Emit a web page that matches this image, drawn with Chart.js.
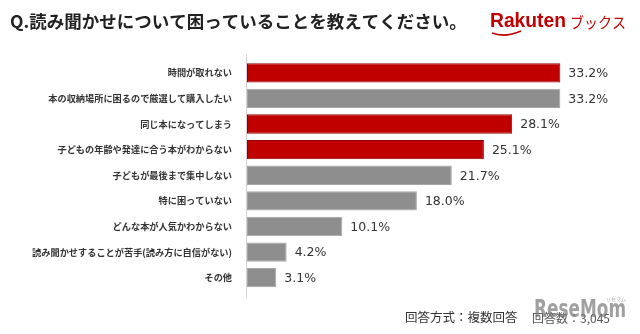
<!DOCTYPE html>
<html>
<head>
<meta charset="utf-8">
<script src="https://cdn.jsdelivr.net/npm/chart.js@4.4.1/dist/chart.umd.min.js"></script>
<style>
  html, body { margin: 0; padding: 0; background: #fff; }
  #wrap { width: 640px; height: 334px; }
</style>
</head>
<body>
<div id="wrap"><canvas id="chart" width="640" height="334"></canvas></div>
<script>
// survey answers, top to bottom
const categories = [
  '時間が取れない',
  '本の収納場所に困るので厳選して購入したい',
  '同じ本になってしまう',
  '子どもの年齢や発達に合う本がわからない',
  '子どもが最後まで集中しない',
  '特に困っていない',
  'どんな本が人気かわからない',
  '読み聞かせすることが苦手(読み方に自信がない)',
  'その他'
];
const percentages = [33.2, 33.2, 28.1, 25.1, 21.7, 18.0, 10.1, 4.2, 3.1];
const highlighted = [true, false, true, true, false, false, false, false, false];

const titleText = 'Q.読み聞かせについて困っていることを教えてください。';
const answerTypeText = '回答方式：複数回答';
const sampleText = '回答数：3,045';

const RED = '#c00000';
const GRAY = '#8e8e8e';
const JP = '"Noto Sans CJK JP", "Noto Sans", sans-serif';

// thin vertical baseline left of the bars, a bit taller than the plot
const axisLine = {
  id: 'axisLine',
  beforeDatasetsDraw(chart) {
    const { ctx, chartArea } = chart;
    ctx.save();
    ctx.strokeStyle = '#d4d4d4';
    ctx.lineWidth = 1;
    ctx.beginPath();
    ctx.moveTo(chartArea.left - 0.5, chartArea.top - 6);
    ctx.lineTo(chartArea.left - 0.5, chartArea.bottom + 7);
    ctx.stroke();
    ctx.restore();
  }
};

// percentage next to each bar
const valueLabels = {
  id: 'valueLabels',
  afterDatasetsDraw(chart) {
    const { ctx } = chart;
    const meta = chart.getDatasetMeta(0);
    ctx.save();
    ctx.font = '12.5px "DejaVu Sans", sans-serif';
    ctx.fillStyle = '#333';
    ctx.textBaseline = 'middle';
    ctx.textAlign = 'left';
    meta.data.forEach((bar, i) => {
      ctx.fillText(percentages[i].toFixed(1) + '%', bar.x + 8, bar.y + 1);
    });
    ctx.restore();
  }
};

// draw text squeezed horizontally to a given width
function fitText(ctx, text, x, y, width) {
  const w = ctx.measureText(text).width;
  ctx.save();
  ctx.translate(x, y);
  ctx.scale(Math.min(1, width / w), 1);
  ctx.fillText(text, 0, 0);
  ctx.restore();
}

// question title, store logo and footnote
const decorations = {
  id: 'decorations',
  afterDraw(chart) {
    const { ctx } = chart;
    ctx.save();
    ctx.textBaseline = 'middle';

    ctx.fillStyle = '#222';
    ctx.font = 'bold 17.5px ' + JP;
    ctx.fillText(titleText, 10, 21);

    // logo
    ctx.fillStyle = '#bf0000';
    ctx.font = 'bold 20px "Liberation Sans", Arial, sans-serif';
    fitText(ctx, 'Rakuten', 490, 21, 76);
    ctx.font = '15px ' + JP;
    fitText(ctx, 'ブックス', 570, 22, 56);
    ctx.strokeStyle = '#bf0000';
    ctx.lineWidth = 1.6;
    ctx.beginPath();
    ctx.moveTo(492, 33);
    ctx.quadraticCurveTo(505, 38, 521, 31);
    ctx.stroke();

    // footnote
    ctx.fillStyle = '#333';
    ctx.font = '12.5px ' + JP;
    ctx.fillText(answerTypeText, 405, 317);
    ctx.fillStyle = '#555';
    ctx.font = '12px ' + JP;
    fitText(ctx, sampleText, 532, 318, 92);

    // watermark
    ctx.fillStyle = 'rgba(120,120,120,0.7)';
    ctx.font = 'bold 24px "DejaVu Sans", sans-serif';
    fitText(ctx, 'ReseMom', 534, 311, 92);
    ctx.font = '5px ' + JP;
    ctx.fillText('リセマム', 606, 299);
    ctx.restore();
  }
};

new Chart(document.getElementById('chart'), {
  type: 'bar',
  data: {
    labels: categories,
    datasets: [{
      data: percentages,
      backgroundColor: highlighted.map(h => h ? RED : GRAY),
      borderColor: highlighted.map(h => h ? '#8f0000' : '#a6a6a6'),
      borderWidth: 1,
      borderSkipped: false,
      categoryPercentage: 1,
      barPercentage: 0.755
    }]
  },
  options: {
    indexAxis: 'y',
    responsive: false,
    animation: false,
    layout: { padding: { top: 60, bottom: 43.5, left: 0, right: 15.5 } },
    plugins: {
      legend: { display: false },
      tooltip: { enabled: false }
    },
    scales: {
      x: {
        display: false,
        min: 0,
        max: 40
      },
      y: {
        grid: { display: false, drawTicks: false },
        border: { display: false },
        ticks: {
          color: '#333',
          padding: 15,
          font: { family: JP, size: 9.2, weight: 'bold' }
        },
        afterFit(scale) { scale.width = 247; }
      }
    }
  },
  plugins: [axisLine, valueLabels, decorations]
});
</script>
</body>
</html>
